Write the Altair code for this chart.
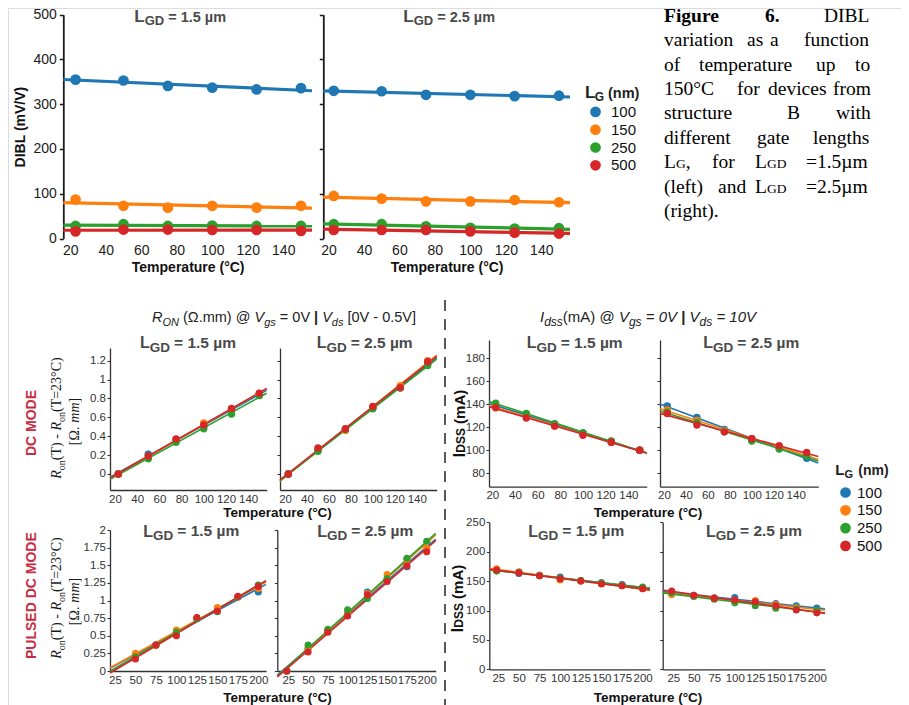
import altair as alt
import pandas as pd

# ---------------------------------------------------------------- data
LG = ["100", "150", "250", "500"]
COLORS = ["#1f77b4", "#ff7f0e", "#2ca02c", "#d62728"]

T_DIBL = [23, 50, 75, 100, 125, 150]
DIBL_15 = {"100": [355, 353, 341, 337, 333, 336],
           "150": [87, 73, 69, 73, 69, 73],
           "250": [28, 32, 28, 29, 28, 28],
           "500": [16, 20, 20, 19, 19, 17]}
DIBL_25 = {"100": [330, 329, 321, 321, 318, 319],
           "150": [95, 89, 83, 83, 86, 81],
           "250": [32, 32, 27, 24, 22, 23],
           "500": [19, 19, 19, 16, 13, 11]}

T_DC = [23, 50, 75, 100, 125, 150]
RON_DC_15 = {"100": [0, 0.21, 0.36, 0.51, 0.68, 0.84],
             "150": [0, 0.18, 0.36, 0.54, 0.69, 0.85],
             "250": [0, 0.16, 0.335, 0.48, 0.635, 0.83],
             "500": [0, 0.19, 0.37, 0.52, 0.695, 0.855]}
RON_DC_25 = {"100": [0, 0.25, 0.47, 0.70, 0.92, 1.17],
             "150": [0, 0.26, 0.46, 0.71, 0.935, 1.20],
             "250": [0, 0.24, 0.47, 0.69, 0.91, 1.15],
             "500": [0, 0.275, 0.48, 0.715, 0.915, 1.19]}
IDSS_DC_15 = {"100": [139, 131, 122, 115, 107, 100],
              "150": [138, 129, 121, 114, 107, 100],
              "250": [141, 132, 123, 115, 108, 100],
              "500": [137, 128, 121, 113, 107, 100]}
IDSS_DC_25 = {"100": [138.5, 128.5, 118, 110, 102, 93],
              "150": [135, 126, 117, 110, 103, 96],
              "250": [133, 124, 116, 108, 101, 95],
              "500": [132, 122, 116, 110, 104, 98]}

T_P15 = [50, 75, 100, 125, 150, 175, 200]
RON_P_15 = {"100": [0.22, 0.37, 0.55, 0.74, 0.86, 1.05, 1.12],
            "150": [0.25, 0.36, 0.58, 0.75, 0.90, 1.05, 1.17],
            "250": [0.20, 0.37, 0.55, 0.74, 0.84, 1.05, 1.22],
            "500": [0.17, 0.37, 0.50, 0.76, 0.85, 1.06, 1.20]}
T_P = [23, 50, 75, 100, 125, 150, 175, 200]
RON_P_25 = {"100": [0, 0.32, 0.57, 0.82, 1.12, 1.30, 1.48, 1.72],
            "150": [0, 0.32, 0.57, 0.82, 1.10, 1.37, 1.58, 1.74],
            "250": [0, 0.37, 0.59, 0.87, 1.03, 1.31, 1.60, 1.84],
            "500": [0, 0.27, 0.55, 0.78, 1.08, 1.27, 1.49, 1.69]}
IDSS_P_15 = {"100": [168, 163, 160, 157, 151, 147, 144, 139],
             "150": [171, 166, 160, 152, 150, 146, 142, 137],
             "250": [167, 165, 159, 155, 151, 147, 143, 140],
             "500": [169, 164, 159, 154, 150, 145, 142, 137]}
IDSS_P_25 = {"100": [131, 126, 121, 122, 114, 112, 108, 104],
             "150": [127, 125, 121, 118, 117, 110, 105, 100],
             "250": [130, 124, 119, 113, 108, 104, 103, 100],
             "500": [133, 126, 121, 118, 115, 108, 101, 96]}

TICKS_T150 = [20, 40, 60, 80, 100, 120, 140]
TICKS_T200 = [25, 50, 75, 100, 125, 150, 175, 200]
TICKS_DIBL = [0, 100, 200, 300, 400, 500]
TICKS_RON_DC = [0, 0.2, 0.4, 0.6, 0.8, 1, 1.2]
TICKS_RON_P = [0, 0.25, 0.5, 0.75, 1, 1.25, 1.5, 1.75, 2]
TICKS_IDSS_DC = [80, 100, 120, 140, 160, 180]
TICKS_IDSS_P = [0, 50, 100, 150, 200, 250]

# ---------------------------------------------------------------- layout
OFF = 8
W, H = 893, 697
SANS = "Liberation Sans"
SERIF = "Liberation Serif"
RED_LABEL = "#c62d42"
FMT = ".6~r"


def c(v):
    return v - OFF


def long(T, series):
    rows = [{"T": t, "v": v, "LG": lg} for lg in LG for t, v in zip(T, series[lg])]
    return pd.DataFrame(rows)


color_scale = alt.Scale(domain=LG, range=COLORS)


def yaxis(x_screen, values, labels=True, big=False, title=None):
    col = "#1a1a1a" if big else "#333333"
    kw = dict(orient="left", offset=-c(x_screen), values=values, format=FMT,
              labels=labels, grid=False, domainColor=col,
              domainWidth=1.8 if big else 1.3, tickColor=col,
              tickWidth=1.5 if big else 1.1, tickSize=4 if big else 3,
              labelFont=SANS, labelFontSize=14 if big else 11.5, labelColor=col,
              labelPadding=3 if big else 1.5, labelOverlap=False, labelFlush=False)
    if title:
        kw.update(title=title, titleFont=SANS, titleFontSize=14, titleFontWeight="bold",
                  titleColor="#111111", titlePadding=5)
    else:
        kw.update(title=None)
    return alt.Axis(**kw)


def xaxis(y_screen, values, big=False, title=None):
    col = "#1a1a1a" if big else "#333333"
    kw = dict(orient="bottom", offset=c(y_screen) - H, values=values, format=FMT,
              grid=False, ticks=False, domain=not big, domainColor=col, domainWidth=1.3,
              labelFont=SANS, labelFontSize=14 if big else 11.5, labelColor=col,
              labelPadding=4 if big else 3, labelOverlap=False, labelFlush=False)
    if title:
        kw.update(title=title, titleFont=SANS, titleFontSize=14, titleFontWeight="bold",
                  titleColor="#111111", titlePadding=3)
    else:
        kw.update(title=None)
    return alt.Axis(**kw)


def panel(df, xdom, xpx, ydom, ypx, xax, yax, size, lw, legend=None):
    xs = alt.Scale(domain=xdom, range=[c(xpx[0]), c(xpx[1])], nice=False, zero=False)
    ys = alt.Scale(domain=ydom, range=[c(ypx[0]), c(ypx[1])], nice=False, zero=False)
    base = alt.Chart(df)
    fit = base.transform_regression("T", "v", groupby=["LG"], extent=list(xdom)).mark_line(
        strokeWidth=lw).encode(
        x=alt.X("T:Q", scale=xs, axis=None),
        y=alt.Y("v:Q", scale=ys, axis=None),
        color=alt.Color("LG:N", scale=color_scale, legend=None),
    )
    pts = base.mark_circle(size=size, opacity=1).encode(
        x=alt.X("T:Q", scale=xs, axis=xax),
        y=alt.Y("v:Q", scale=ys, axis=yax),
        color=alt.Color("LG:N", scale=color_scale, legend=legend),
    )
    return [fit, pts]


def legend(x_screen, y_screen, offset):
    return alt.Legend(orient="none", legendX=c(x_screen), legendY=c(y_screen), title=None,
                      direction="vertical", symbolType="circle", symbolSize=115,
                      symbolStrokeWidth=0, symbolOpacity=1, labelFont=SANS,
                      labelFontSize=15, labelColor="#111111", rowPadding=1.8,
                      padding=0, labelOffset=offset)


layers = []
# top row: DIBL
Y_DIBL = ([0, 500], [238.5, 14.7])
layers += panel(long(T_DIBL, DIBL_15), [16.1, 156.2], [63.3, 312], *Y_DIBL,
                xaxis(239, TICKS_T150, big=True, title="Temperature (°C)"),
                yaxis(63.3, TICKS_DIBL, big=True, title="DIBL (mV/V)"), 115, 3.2)
layers += panel(long(T_DIBL, DIBL_25), [17.1, 156.2], [323.3, 570], *Y_DIBL,
                xaxis(239, TICKS_T150, big=True, title="Temperature (°C)"),
                yaxis(323.3, TICKS_DIBL, labels=False, big=True), 115, 3.2,
                legend=legend(588, 104.4, 8))
# middle row: DC mode
Y_RDC = ([-0.17, 1.335], [490, 348])
layers += panel(long(T_DC, RON_DC_15), [15.5, 156.7], [110, 266.7], *Y_RDC,
                xaxis(490, TICKS_T150), yaxis(110, TICKS_RON_DC), 55, 1.6)
layers += panel(long(T_DC, RON_DC_25), [15.4, 158.2], [280, 436.7], *Y_RDC,
                xaxis(490, TICKS_T150), yaxis(280, TICKS_RON_DC, labels=False), 55, 1.6)
Y_IDC = ([68.3, 195.9], [486.7, 340])
layers += panel(long(T_DC, IDSS_DC_15), [17.1, 156.2], [489, 646.7], *Y_IDC,
                xaxis(486.7, TICKS_T150), yaxis(489, TICKS_IDSS_DC), 55, 1.6)
layers += panel(long(T_DC, IDSS_DC_25), [16.4, 160.6], [660, 818.3], *Y_IDC,
                xaxis(486.7, TICKS_T150), yaxis(660, TICKS_IDSS_DC, labels=False), 55, 1.6,
                legend=legend(838, 485, 4))
# bottom row: pulsed DC mode
Y_RP = ([0, 2], [671, 530])
layers += panel(long(T_P15, RON_P_15), [18.9, 209.4], [110, 266], *Y_RP,
                xaxis(671, TICKS_T200), yaxis(110, TICKS_RON_P), 50, 1.6)
layers += panel(long(T_P, RON_P_25), [11.1, 211.4], [277.3, 435.7], *Y_RP,
                xaxis(671, TICKS_T200), yaxis(277.3, TICKS_RON_P, labels=False), 50, 1.6)
Y_IP = ([0, 250], [669.3, 522.3])
layers += panel(long(T_P, IDSS_P_15), [14.1, 208.9], [489.3, 650], *Y_IP,
                xaxis(669.3, TICKS_T200), yaxis(489.3, TICKS_IDSS_P), 50, 1.6)
layers += panel(long(T_P, IDSS_P_25), [12.1, 210], [662.7, 825], *Y_IP,
                xaxis(669.3, TICKS_T200), yaxis(662.7, TICKS_IDSS_P, labels=False), 50, 1.6)

# ---------------------------------------------------------------- text
SANS_W = {" ": 278, "(": 333, ")": 333, ".": 278, "@": 1015, "=": 584, "V": 667, "|": 260,
          "[": 278, "]": 278, "-": 333, "m": 833, "A": 667, "Ω": 750, "s": 500, "g": 556,
          "d": 556, "O": 778, "N": 722, "R": 722, "I": 278, "D": 722, "S": 667, "L": 556,
          "G": 778, "µ": 576, "T": 611, "C": 722, "n": 556, "o": 556, "°": 400}
SANS_BW = {" ": 278, "(": 333, ")": 333, ".": 278, "=": 584, "|": 280, "m": 889, "A": 722,
           "I": 278, "D": 722, "S": 667, "L": 611, "G": 778, "µ": 611, "n": 611}
SERIF_W = {" ": 250, "(": 333, ")": 333, ".": 250, "=": 564, "-": 333, "T": 611, "C": 667,
           "R": 667, "o": 500, "n": 500, "°": 400, "[": 333, "]": 333, "Ω": 768, "m": 778}
SERIF_IW = {"R": 611, "m": 722}


def tw(t, size, font=SANS, weight="normal", style="normal"):
    total = 0
    for ch in t:
        if ch.isdigit():
            w = 556 if font == SANS else 500
        elif font == SANS:
            w = (SANS_BW if weight == "bold" else SANS_W).get(ch, 556)
        else:
            w = SERIF_IW.get(ch, SERIF_W.get(ch, 500)) if style == "italic" else SERIF_W.get(ch, 500)
        total += w
    return total * size / 1000.0


pieces = []


def put(t, x, y, size, font=SANS, weight="normal", style="normal", color="#000000",
        angle=0, align="left", baseline="alphabetic"):
    pieces.append(dict(t=t, x=c(x), y=c(y), size=size, font=font, weight=weight, style=style,
                       color=color, angle=angle, align=align, baseline=baseline))


def run(parts, x0, y0, font=SANS, color="#000000", vertical=False, center=False):
    """parts: (text, size, weight, style, shift)"""
    widths = [tw(p[0], p[1], font, p[2], p[3]) for p in parts]
    total = sum(widths)
    cum = 0
    if vertical:
        start = y0 + total / 2 if center else y0
    else:
        start = x0 - total / 2 if center else x0
    for (t, size, weight, style, shift), w in zip(parts, widths):
        lead = len(t) - len(t.lstrip())
        adv = cum + tw(" " * lead, size, font, weight, style)
        s = t.strip()
        if s:
            if vertical:
                put(s, x0 + shift, start - adv, size, font, weight, style, color, angle=270)
            else:
                put(s, start + adv, y0 + shift, size, font, weight, style, color)
        cum += w


TITLE_GREY = "#4a4a4a"


def lgd_title(xl, yb, value, big=False):
    sl, sg, sr = (17, 13, 14.5) if big else (16, 13.5, 15.5)
    put("L", xl, yb, sl, weight="bold", color=TITLE_GREY)
    x2 = xl + tw("L", sl, weight="bold")
    put("GD", x2, yb + 3.2, sg, weight="bold", color=TITLE_GREY)
    x3 = x2 + tw("GD", sg, weight="bold") + 4
    put("= %s µm" % value, x3, yb - 0.5, sr, weight="bold", color=TITLE_GREY)


lgd_title(134.3, 22, "1.5", big=True)
lgd_title(403.3, 22, "2.5", big=True)
for xl, v in [(140, "1.5"), (316.7, "2.5"), (526.7, "1.5"), (703.3, "2.5")]:
    lgd_title(xl, 348.3, v)
for xl, v in [(143.3, "1.5"), (317.3, "2.5"), (528.3, "1.5"), (706, "2.5")]:
    lgd_title(xl, 536.7, v)

# legend titles  L_G (nm)
put("L", 585, 98.3, 17, weight="bold", color="#222222")
put("G", 594.8, 100.5, 12, weight="bold", color="#222222")
put("(nm)", 608, 98.3, 14.5, weight="bold", color="#222222")
put("L", 835.3, 475, 15, weight="bold", color="#222222")
put("G", 844.5, 477.5, 11, weight="bold", color="#222222")
put("(nm)", 858.3, 475, 14, weight="bold", color="#222222")

# section titles
run([("R", 14.5, "normal", "italic", 0), ("ON", 11, "normal", "italic", 4),
     (" (Ω.mm) @ ", 14.5, "normal", "normal", 0), ("V", 14.5, "normal", "italic", 0),
     ("gs", 11, "normal", "italic", 4), (" = 0V ", 14.5, "normal", "normal", 0),
     ("|", 14.5, "bold", "normal", 0), (" V", 14.5, "normal", "italic", 0),
     ("ds", 11, "normal", "italic", 4), (" [0V - 0.5V]", 14.5, "normal", "normal", 0)],
    152, 322, color="#222222")
run([("I", 15, "normal", "italic", 0), ("dss", 12, "normal", "italic", 4),
     ("(mA) @ ", 15, "normal", "normal", 0), ("V", 15, "normal", "italic", 0),
     ("gs", 12, "normal", "italic", 4), (" = 0V ", 15, "normal", "italic", 0),
     ("|", 15, "bold", "normal", 0), (" V", 15, "normal", "italic", 0),
     ("ds", 12, "normal", "italic", 4), (" = 10V", 15, "normal", "italic", 0)],
    540, 322, color="#222222")

# rotated y titles for R_on panels
RON_L1 = [("R", 14, "normal", "italic", 0), ("on", 10, "normal", "normal", 3.5),
          ("(T) - ", 14, "normal", "normal", 0), ("R", 14, "normal", "italic", 0),
          ("on", 10, "normal", "normal", 3.5), ("(T=23°C)", 14, "normal", "normal", 0)]
RON_L2 = [("[Ω. ", 14, "normal", "normal", 0), ("mm", 14, "normal", "italic", 0),
          ("]", 14, "normal", "normal", 0)]
for yc in (418, 598):
    run(RON_L1, 61, yc, font=SERIF, color="#1a1a1a", vertical=True, center=True)
    run(RON_L2, 79, yc + 3.5, font=SERIF, color="#1a1a1a", vertical=True, center=True)

# rotated Idss titles
IDSS_T = [("I", 16, "bold", "normal", 0), ("DSS", 12, "bold", "normal", 0),
          (" (mA)", 15, "bold", "normal", 0)]
run(IDSS_T, 465, 423.5, color="#111111", vertical=True, center=True)
run(IDSS_T, 463, 598.5, color="#111111", vertical=True, center=True)

# mode labels
put("DC MODE", 32, 423, 14, weight="bold", color=RED_LABEL, angle=270, align="center",
    baseline="middle")
put("PULSED DC MODE", 32, 595.6, 14, weight="bold", color=RED_LABEL, angle=270,
    align="center", baseline="middle")

# shared x titles
for xc, yb in [(277.5, 516.5), (648, 516.5), (277.5, 701.5), (648, 701.5)]:
    put("Temperature (°C)", xc, yb, 13.5, weight="bold", color="#111111", align="center")

# caption (justified by word)
CAP = 19.5
cap_lines = [
    (21.8, [("Figure", 664, "bold"), ("6.", 765, "bold"), ("DIBL", 824, "normal")]),
    (46.2, [("variation", 664, "normal"), ("as", 747, "normal"), ("a", 770, "normal"),
            ("function", 804, "normal")]),
    (70.6, [("of", 664, "normal"), ("temperature", 699, "normal"), ("up", 816, "normal"),
            ("to", 855, "normal")]),
    (95, [("150°C", 664, "normal"), ("for", 737, "normal"), ("devices", 768, "normal"),
          ("from", 833, "normal")]),
    (119.4, [("structure", 664, "normal"), ("B", 787, "normal"), ("with", 836, "normal")]),
    (143.8, [("different", 664, "normal"), ("gate", 757, "normal"), ("lengths", 813, "normal")]),
    (217, [("(right).", 664, "normal")]),
]
for yb, words in cap_lines:
    for w, x, wt in words:
        put(w, x, yb, CAP, font=SERIF, weight=wt)
put("L", 664, 168.2, CAP, font=SERIF)
put("G", 676, 168.2, 13.5, font=SERIF)
put(",", 685.8, 168.2, CAP, font=SERIF)
put("for", 712, 168.2, CAP, font=SERIF)
put("L", 755, 168.2, CAP, font=SERIF)
put("GD", 767, 168.2, 13.5, font=SERIF)
put("=1.5µm", 806, 168.2, CAP, font=SERIF)
put("(left)", 664, 192.6, CAP, font=SERIF)
put("and", 718, 192.6, CAP, font=SERIF)
put("L", 755, 192.6, CAP, font=SERIF)
put("GD", 767, 192.6, 13.5, font=SERIF)
put("=2.5µm", 806, 192.6, CAP, font=SERIF)

pdf = pd.DataFrame(pieces)
keys = ["font", "weight", "style", "color", "angle", "align", "baseline"]
for key, grp in pdf.groupby(keys, sort=False):
    kw = dict(zip(keys, key))
    layers.append(
        alt.Chart(grp[["t", "x", "y", "size"]].reset_index(drop=True)).mark_text(
            font=kw["font"], fontWeight=kw["weight"], fontStyle=kw["style"], color=kw["color"],
            angle=float(kw["angle"]), align=kw["align"], baseline=kw["baseline"]).encode(
            x=alt.X("x:Q", scale=None, axis=None),
            y=alt.Y("y:Q", scale=None, axis=None),
            size=alt.Size("size:Q", scale=None, legend=None),
            text="t:N")
    )

# dashed separator between R_on and I_dss blocks
layers.append(
    alt.Chart(pd.DataFrame({"k": [0]})).mark_rule(
        color="#222222", strokeWidth=1.5, strokeDash=[11, 8]).encode(
        x=alt.value(c(445)), y=alt.value(c(300)), y2=alt.value(c(705)))
)

chart = alt.layer(*layers).resolve_scale(
    x="independent", y="independent", color="independent", size="independent"
).properties(
    width=W, height=H, padding=0, autosize=alt.AutoSizeParams(type="none")
).configure_view(stroke=None).configure(background="white")

chart.save("out.html", embed_options={"renderer": "svg", "actions": False})
